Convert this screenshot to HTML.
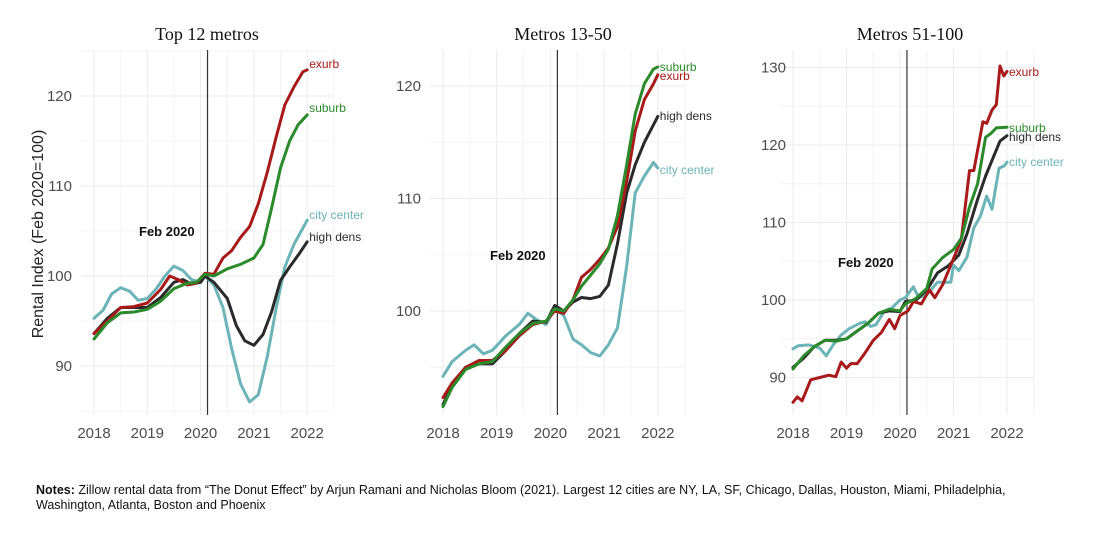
<!DOCTYPE html>
<html><head><meta charset="utf-8"><style>
body{margin:0;background:#fff;}
svg text{font-family:"Liberation Sans",sans-serif;}
</style></head><body>
<svg id="chart" width="1110" height="529" xmlns="http://www.w3.org/2000/svg">
<rect width="1110" height="529" fill="#fff"/>
<text x="0" y="0" transform="translate(43,234) rotate(-90)" text-anchor="middle" font-size="16" fill="#222">Rental Index (Feb 2020=100)</text>
<text x="36" y="494" font-size="12.5" fill="#111"><tspan font-weight="bold">Notes:</tspan> Zillow rental data from “The Donut Effect” by Arjun Ramani and Nicholas Bloom (2021). Largest 12 cities are NY, LA, SF, Chicago, Dallas, Houston, Miami, Philadelphia,</text>
<text x="36" y="509" font-size="12.5" fill="#111">Washington, Atlanta, Boston and Phoenix</text>
</svg>
<script>
const seriesNames=["exurb","suburb","high dens","city center"];
const seriesColors=["#a81a1a","#2b8a2b","#2a2a2a","#6cb4b8"];
const panelTitles=["Top 12 metros","Metros 13-50","Metros 51-100"];
const yearTicks=[2018,2019,2020,2021,2022];
const yTicks1=[90,100,110,120];
const yTicks2=[100,110,120];
const yTicks3=[90,100,110,120,130];
// panel 1
const p1Exurb=[[2018,93.6],[2018.25,95],[2018.5,96.5],[2018.75,96.6],[2019,97],[2019.25,98.5],[2019.42,100],[2019.58,99.6],[2019.75,99],[2019.92,99.2],[2020.08,100.3],[2020.25,100.2],[2020.42,102],[2020.58,102.8],[2020.75,104.3],[2020.92,105.5],[2021.08,108],[2021.25,111.5],[2021.42,115.5],[2021.58,119],[2021.75,121],[2021.92,122.7],[2022,122.9]];
const p1Suburb=[[2018,93],[2018.25,94.8],[2018.5,95.9],[2018.75,96],[2019,96.3],[2019.25,97.2],[2019.5,98.6],[2019.75,99.2],[2019.92,99.3],[2020.08,100.2],[2020.25,100],[2020.5,100.8],[2020.75,101.3],[2021,102],[2021.17,103.5],[2021.33,107.5],[2021.5,112],[2021.67,115],[2021.83,116.8],[2022,117.9]];
const p1High=[[2018,93.6],[2018.25,95.3],[2018.5,96.5],[2018.75,96.5],[2019,96.5],[2019.25,97.6],[2019.5,99.3],[2019.67,99.6],[2019.83,99.1],[2020,99.3],[2020.08,100],[2020.25,99.3],[2020.5,97.5],[2020.67,94.5],[2020.83,92.8],[2021,92.3],[2021.17,93.5],[2021.33,96],[2021.5,99.5],[2021.67,101],[2021.83,102.3],[2022,103.8]];
const p1City=[[2018,95.3],[2018.17,96.2],[2018.33,98],[2018.5,98.7],[2018.67,98.3],[2018.83,97.3],[2019,97.5],[2019.17,98.6],[2019.33,100],[2019.5,101.1],[2019.67,100.6],[2019.83,99.6],[2020,99.3],[2020.08,100],[2020.25,99],[2020.42,96.5],[2020.58,92],[2020.75,88],[2020.92,86],[2021.08,86.8],[2021.25,91],[2021.42,96.5],[2021.58,101],[2021.75,103.5],[2022,106.2]];
// panel 2
const p2Exurb=[[2018,92.3],[2018.17,93.6],[2018.42,95],[2018.67,95.6],[2018.92,95.6],[2019.17,96.5],[2019.42,97.8],[2019.67,98.8],[2019.92,99.1],[2020.08,100],[2020.25,99.8],[2020.42,101],[2020.58,103],[2020.75,103.7],[2020.92,104.6],[2021.08,105.6],[2021.25,107.5],[2021.42,111.5],[2021.58,116],[2021.75,118.8],[2021.92,120.2],[2022,121]];
const p2Suburb=[[2018,91.5],[2018.17,93.2],[2018.42,94.8],[2018.67,95.3],[2018.92,95.5],[2019.17,96.8],[2019.42,98],[2019.67,98.9],[2019.92,99.1],[2020.08,100.2],[2020.25,100],[2020.42,101],[2020.58,102.2],[2020.75,103.2],[2020.92,104.2],[2021.08,105.5],[2021.25,108.5],[2021.42,113],[2021.58,117.5],[2021.75,120.2],[2021.92,121.5],[2022,121.7]];
const p2High=[[2018,91.7],[2018.17,93.3],[2018.42,95],[2018.67,95.3],[2018.92,95.3],[2019.17,96.5],[2019.42,98],[2019.67,99.1],[2019.92,99],[2020.08,100.5],[2020.25,100],[2020.42,100.8],[2020.58,101.2],[2020.75,101.1],[2020.92,101.3],[2021.08,102.3],[2021.25,106],[2021.42,110.5],[2021.58,113],[2021.75,115],[2022,117.3]];
const p2City=[[2018,94.2],[2018.17,95.5],[2018.42,96.5],[2018.58,97],[2018.75,96.2],[2018.92,96.5],[2019.17,97.8],[2019.42,98.8],[2019.58,99.8],[2019.75,99.2],[2019.92,98.8],[2020.08,100.2],[2020.25,99.6],[2020.42,97.5],[2020.58,97],[2020.75,96.3],[2020.92,96],[2021.08,97],[2021.25,98.5],[2021.42,104],[2021.58,110.5],[2021.75,112],[2021.92,113.2],[2022,112.7]];
// panel 3
const p3Exurb=[[2018,86.8],[2018.08,87.5],[2018.17,87],[2018.33,89.7],[2018.5,90],[2018.67,90.3],[2018.8,90.1],[2018.9,92],[2019,91.2],[2019.08,91.8],[2019.2,91.8],[2019.35,93.2],[2019.5,94.8],[2019.65,95.8],[2019.8,97.5],[2019.9,96.3],[2020,98],[2020.15,98.6],[2020.25,99.8],[2020.4,99.5],[2020.55,101.3],[2020.65,100.3],[2020.8,102],[2020.95,104.5],[2021.1,107],[2021.15,108],[2021.3,116.7],[2021.38,116.7],[2021.55,123],[2021.62,122.8],[2021.72,124.5],[2021.8,125.2],[2021.87,130.2],[2021.94,128.9],[2022,129.5]];
const p3Suburb=[[2018,91.1],[2018.2,92.8],[2018.4,94],[2018.6,94.8],[2018.8,94.7],[2019,95],[2019.2,96],[2019.4,97],[2019.6,98.3],[2019.8,98.8],[2020,98.6],[2020.1,99.5],[2020.3,100.2],[2020.5,101.5],[2020.6,104],[2020.8,105.5],[2021,106.5],[2021.15,108],[2021.3,112],[2021.45,115],[2021.6,121],[2021.7,121.5],[2021.8,122.2],[2022,122.3]];
const p3High=[[2018,91.3],[2018.2,92.5],[2018.4,94],[2018.6,94.8],[2018.8,94.8],[2019,95],[2019.2,96],[2019.4,97],[2019.6,98.3],[2019.8,98.6],[2020,98.5],[2020.1,99.8],[2020.3,100],[2020.5,101.3],[2020.7,103.5],[2020.9,104.4],[2021.1,105.8],[2021.25,108.5],[2021.45,113],[2021.6,116],[2021.75,118.5],[2021.87,120.5],[2022,121.2]];
const p3City=[[2018,93.7],[2018.1,94.1],[2018.3,94.2],[2018.5,93.8],[2018.62,92.8],[2018.75,94.2],[2018.9,95.5],[2019.05,96.3],[2019.25,97],[2019.35,97.2],[2019.45,96.6],[2019.55,96.8],[2019.7,98.5],[2019.85,99],[2020,100],[2020.1,100.3],[2020.25,101.7],[2020.35,100.3],[2020.5,100.7],[2020.7,102.3],[2020.95,102.3],[2021,104.5],[2021.1,103.8],[2021.25,105.5],[2021.38,109.3],[2021.5,110.8],[2021.62,113.4],[2021.72,111.7],[2021.85,117],[2021.95,117.3],[2022,117.8]];

const NS="http://www.w3.org/2000/svg";
const svgRoot=document.getElementById('chart');
function mk(tag,attrs,parent){const e=document.createElementNS(NS,tag);for(const k in attrs)e.setAttribute(k,attrs[k]);(parent||svgRoot).appendChild(e);return e;}

const panels=[
 {x2018:94,pxYear:53.3,y100:276,pxUnit:9,yTicks:yTicks1,tickRight:72,titleX:207,
  series:[p1Exurb,p1Suburb,p1High,p1City],labelY:[68,112,241,219],feb:[139,236]},
 {x2018:443,pxYear:53.7,y100:311,pxUnit:11.25,yTicks:yTicks2,tickRight:421,titleX:563,
  series:[p2Exurb,p2Suburb,p2High,p2City],labelY:[80,71,120,174],feb:[490,260]},
 {x2018:793,pxYear:53.5,y100:300,pxUnit:7.75,yTicks:yTicks3,tickRight:786,titleX:910,
  series:[p3Exurb,p3Suburb,p3High,p3City],labelY:[76,132,141,166],feb:[838,267]}
];
const plotTop=50,plotBottom=415;
panels.forEach((p,pi)=>{
  const g=mk('g',{});
  
  
  const xs=t=>p.x2018+(t-2018)*p.pxYear;
  const ys=v=>p.y100-(v-100)*p.pxUnit;
  const xl=xs(2017.75),xr=xs(2022.5);
  for(let t=2017.5;t<=2022.5;t+=0.5){
    if(t<2017.75)continue;
    const gl=mk('line',{x1:xs(t),x2:xs(t),y1:plotTop,y2:plotBottom,stroke:Number.isInteger(t)?'#ebebeb':'#f4f4f4','stroke-width':1},g);
    
    
  }
  const vmin=100-(plotBottom-p.y100)/p.pxUnit, vmax=100+(p.y100-plotTop)/p.pxUnit;
  for(let v=Math.ceil(vmin/5)*5;v<=vmax;v+=5){
    const gl=mk('line',{x1:xl,x2:xr,y1:ys(v),y2:ys(v),stroke:v%10===0?'#ebebeb':'#f4f4f4','stroke-width':1},g);
    
    
  }
  p.yTicks.forEach(v=>{
    const t=mk('text',{x:p.tickRight,y:ys(v)+5,'text-anchor':'end','font-size':15,fill:'#4d4d4d'},g);
    t.textContent=v;
    
    
  });
  yearTicks.forEach(y=>{
    const t=mk('text',{x:xs(y),y:438,'text-anchor':'middle','font-size':15,fill:'#4d4d4d'},g);
    t.textContent=y;
    
    
  });
  const ti=mk('text',{x:p.titleX,y:40,'text-anchor':'middle','font-size':18,fill:'#111',style:'font-family:"Liberation Serif",serif'},g);
  ti.textContent=panelTitles[pi];
  
  
  const vl=mk('line',{x1:xs(2020.13),x2:xs(2020.13),y1:plotTop,y2:plotBottom,stroke:'#333','stroke-width':1.2},g);
  
  
  const fb=mk('text',{x:p.feb[0],y:p.feb[1],'font-size':13,fill:'#111','font-weight':'bold'},g);
  fb.textContent='Feb 2020';
  
  
  [3,2,0,1].forEach(si=>{
    const d=p.series[si].map((pt,i)=>(i?'L':'M')+xs(pt[0]).toFixed(1)+','+ys(pt[1]).toFixed(1)).join('');
    const pa=mk('path',{d:d,fill:'none',stroke:seriesColors[si],'stroke-width':3,'stroke-linejoin':'round','stroke-linecap':'round'},g);
    
    
  });
  seriesNames.forEach((n,si)=>{
    const last=p.series[si][p.series[si].length-1];
    const t=mk('text',{x:xs(last[0])+2,y:p.labelY[si],'font-size':12,fill:seriesColors[si]},g);
    t.textContent=n;
    
    
  });
});
</script>
</body></html>
